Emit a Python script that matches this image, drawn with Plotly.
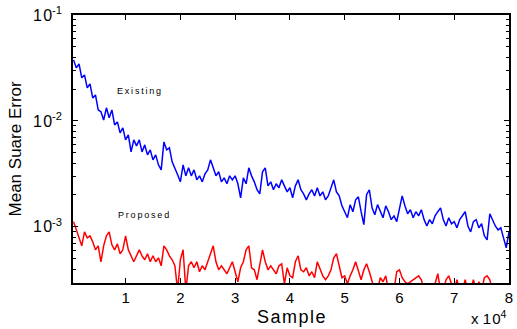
import plotly.graph_objects as go

# sample index (step 500)
samples = list(range(500, 80001, 500))

existing = [
    0.0377, 0.0317, 0.0345, 0.0255, 0.0272, 0.0205, 0.0224, 0.0165, 0.0176, 0.0127,
    0.0122, 0.0102, 0.0133, 0.0107, 0.0127, 0.00917, 0.00979, 0.00771, 0.00859, 0.00662,
    0.00738, 0.00510, 0.00662, 0.00581, 0.00662, 0.00510, 0.00594, 0.00478, 0.00533, 0.00429,
    0.00478, 0.00385, 0.00345, 0.00634, 0.00533, 0.00557, 0.00411, 0.00361, 0.00310, 0.00266,
    0.00385, 0.00303, 0.00361, 0.00303, 0.00345, 0.00278, 0.00303, 0.00266, 0.00317, 0.00345,
    0.00429, 0.00361, 0.00303, 0.00331, 0.00266, 0.00290, 0.00255, 0.00303, 0.00278, 0.00303,
    0.00255, 0.00188, 0.00290, 0.00255, 0.00361, 0.00303, 0.00266, 0.00224, 0.00205, 0.00331,
    0.00361, 0.00244, 0.00266, 0.00224, 0.00255, 0.00234, 0.00278, 0.00244, 0.00214, 0.00234,
    0.00188, 0.00244, 0.00278, 0.00224, 0.00205, 0.00180, 0.00205, 0.00224, 0.00196, 0.00234,
    0.00196, 0.00214, 0.00180, 0.00196, 0.00234, 0.00278, 0.00214, 0.00196, 0.00158, 0.00139,
    0.00122, 0.00162, 0.00139, 0.00180, 0.00192, 0.00139, 0.00105, 0.00201, 0.00224, 0.00151,
    0.00130, 0.00162, 0.00139, 0.00122, 0.00158, 0.00139, 0.00117, 0.00127, 0.00112, 0.00145,
    0.00196, 0.00158, 0.00133, 0.00145, 0.00122, 0.00139, 0.00127, 0.00145, 0.00117, 0.00102,
    0.00117, 0.00107, 0.00127, 0.00139, 0.00151, 0.00117, 0.00102, 0.00122, 0.00107, 0.00112,
    0.000979, 0.00117, 0.00127, 0.00139, 0.00102, 0.000897, 0.00112, 0.00117, 0.000979, 0.00107,
    0.000823, 0.000754, 0.00133, 0.00117, 0.00102, 0.000937, 0.000979, 0.000787, 0.000634, 0.000897,
]

proposed = [
    0.00112, 0.000937, 0.000787, 0.000662, 0.000897, 0.000787, 0.000823, 0.000722, 0.000607, 0.000662,
    0.000468, 0.000662, 0.000823, 0.000897, 0.000677, 0.000607, 0.000691, 0.000557, 0.000607, 0.000823,
    0.000607, 0.000533, 0.000468, 0.000533, 0.000607, 0.000533, 0.000489, 0.000557, 0.000468, 0.000533,
    0.000468, 0.000510, 0.000429, 0.000662, 0.000607, 0.000533, 0.000489, 0.000429, 0.00025, 0.000489,
    0.000607, 0.00025, 0.000429, 0.000468, 0.000411, 0.000468, 0.000377, 0.000429, 0.000393, 0.000468,
    0.000557, 0.000662, 0.000468, 0.000393, 0.000429, 0.000393, 0.000361, 0.000411, 0.000468, 0.000377,
    0.000303, 0.000411, 0.000468, 0.000607, 0.000662, 0.000411, 0.000393, 0.000317, 0.000429, 0.000607,
    0.000468, 0.000393, 0.000429, 0.000393, 0.000361, 0.000429, 0.000448, 0.000290, 0.000411, 0.000345,
    0.000331, 0.000468, 0.000533, 0.000393, 0.000377, 0.000411, 0.000345, 0.000377, 0.000331, 0.000468,
    0.000393, 0.000345, 0.000317, 0.000345, 0.000393, 0.000510, 0.000557, 0.000429, 0.000331, 0.000345,
    0.000290, 0.000345, 0.000393, 0.000468, 0.000377, 0.000317, 0.000393, 0.000448, 0.000377, 0.000303,
    0.00025, 0.00025, 0.000331, 0.000303, 0.000345, 0.00025, 0.00025, 0.00025, 0.000377, 0.000393,
    0.000331, 0.000303, 0.000290, 0.000303, 0.000317, 0.000331, 0.000345, 0.000317, 0.00025, 0.00025,
    0.00025, 0.00025, 0.000290, 0.000361, 0.00025, 0.00025, 0.000317, 0.000345, 0.000290, 0.00025,
    0.000317, 0.00025, 0.00025, 0.000317, 0.00025, 0.00025, 0.000317, 0.00025, 0.000303, 0.00025,
    0.000331, 0.000345, 0.000317, 0.00025, 0.00025, 0.00025, 0.00025, 0.00025, 0.00025, 0.00025,
]

x_tickvals = [10000, 20000, 30000, 40000, 50000, 60000, 70000, 80000]
x_ticktext = ["1", "2", "3", "4", "5", "6", "7", "8"]
y_tickvals = [1e-3, 1e-2, 1e-1]
y_ticktext = ["1\u200a0<sup>-3</sup>", "1\u200a0<sup>-2</sup>", "1\u200a0<sup>-1</sup>"]

FONT = "Liberation Sans, Arial, Helvetica, sans-serif"
HS = "\u200a"

fig = go.Figure()
fig.add_trace(go.Scatter(x=samples, y=existing, mode="lines",
                         line=dict(color="#0000ff", width=1.5), showlegend=False))
fig.add_trace(go.Scatter(x=samples, y=proposed, mode="lines",
                         line=dict(color="#ff0000", width=1.5), showlegend=False))

fig.update_layout(
    width=517, height=329,
    margin=dict(l=73, r=4, t=15, b=46),
    paper_bgcolor="white", plot_bgcolor="white",
    font=dict(family=FONT, color="black"),
    showlegend=False,
)
fig.update_xaxes(
    range=[400, 80000], tickvals=x_tickvals, ticktext=x_ticktext,
    ticks="inside", ticklen=5, tickwidth=1, tickcolor="black",
    showline=True, linecolor="black", linewidth=1.5, mirror="ticks",
    showgrid=False, zeroline=False, tickfont=dict(size=15, family=FONT),
)
fig.update_yaxes(
    type="log", range=[-3.53, -1], tickvals=y_tickvals, ticktext=y_ticktext,
    ticks="inside", ticklen=5, tickwidth=1, tickcolor="black",
    minor=dict(ticks="inside", ticklen=3, tickcolor="black", dtick="D1", showgrid=False),
    showline=True, linecolor="black", linewidth=1.5, mirror="ticks",
    showgrid=False, zeroline=False, tickfont=dict(size=16, family=FONT),
    ticklabelstandoff=6,
)

fig.add_annotation(text=HS.join("Sample"), xref="paper", yref="paper",
                   x=0.5, y=-0.126, yanchor="middle", xanchor="center", showarrow=False,
                   font=dict(size=18, family=FONT))
fig.add_annotation(text="Mean Suare Error", xref="paper", yref="paper",
                   x=-0.132, y=0.5, textangle=-90, xanchor="center", yanchor="middle",
                   showarrow=False, font=dict(size=17, family=FONT))
fig.add_annotation(text="x " + HS.join("10") + "<sup>4</sup>", xref="paper", yref="paper",
                   x=1.0, y=-0.13, xanchor="right", yanchor="middle", showarrow=False,
                   font=dict(size=15, family=FONT))
fig.add_annotation(text="\u2009".join("Existing"), x=12500, y=-1.717,
                   xanchor="center", yanchor="middle", showarrow=False,
                   font=dict(size=9, family=FONT))
fig.add_annotation(text="\u2009".join("Proposed"), x=13300, y=-2.887,
                   xanchor="center", yanchor="middle", showarrow=False,
                   font=dict(size=9, family=FONT))

fig.write_html("out.html")
